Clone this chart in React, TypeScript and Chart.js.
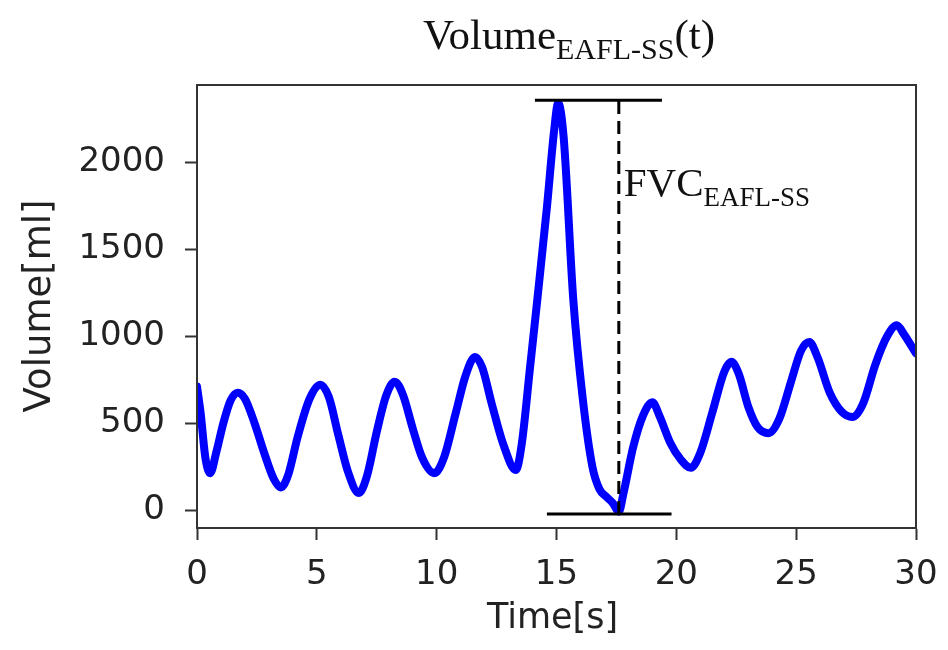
import { useEffect, useRef } from "react";
import { Chart, registerables } from "chart.js";

Chart.register(...registerables);

// Breathing volume trace (time in seconds, volume in ml)
const timeS = [
  0.0, 0.15, 0.35, 0.55, 0.8, 1.1, 1.4, 1.7, 2.0, 2.4, 2.8, 3.2, 3.5, 3.8, 4.2, 4.7,
  5.15, 5.5, 5.9, 6.3, 6.75, 7.1, 7.5, 7.9, 8.25, 8.6, 9.0, 9.4, 9.9, 10.3, 10.8, 11.2,
  11.6, 11.9, 12.3, 12.8, 13.3, 13.55, 13.9, 14.2, 14.6, 14.9, 15.07, 15.3, 15.7, 16.1,
  16.5, 16.8, 17.1, 17.35, 17.6, 17.8, 18.2, 18.6, 19.0, 19.3, 19.75, 20.2, 20.6, 21.0,
  21.5, 22.0, 22.3, 22.6, 23.0, 23.4, 23.85, 24.3, 24.8, 25.2, 25.55, 25.9, 26.4, 26.9,
  27.35, 27.8, 28.3, 28.8, 29.2, 29.5, 30.0,
];
const volumeMl = [
  710, 560, 300, 212, 330, 500, 630, 675, 640, 500, 330, 180, 130, 200, 420, 640,
  720, 650, 430, 220, 98, 200, 450, 660, 738, 660, 470, 300, 212, 300, 560, 770,
  880, 820, 610, 370, 230, 380, 825, 1210, 1740, 2180, 2340, 2140, 1210, 635,
  248, 118, 74, 40, -10, 100, 362, 540, 620, 540, 386, 288, 243, 330,
  560, 795, 852, 785, 595, 475, 442, 525, 745, 915, 966, 875, 675, 565,
  535, 615, 835, 1000, 1062, 1010, 900,
];

// Axis ticks
const xTickValues = [0, 5, 10, 15, 20, 25, 30];
const yTickValues = [0, 500, 1000, 1500, 2000];

// FVC markers: bars at the maximum and minimum volume, dashed span between them
const fvcTime = 17.6;
const fvcMaxMl = 2355;
const fvcMinMl = -23;
const maxBarTimes = [14.1, 19.4];
const minBarTimes = [14.6, 19.8];

const SERIF = '"Liberation Serif", "Times New Roman", serif';
const SANS = '"DejaVu Sans", sans-serif';

function drawWithSubscript(
  ctx: CanvasRenderingContext2D,
  base: string,
  sub: string,
  tail: string,
  x: number,
  baseline: number,
  size: number,
  subSize: number,
  drop: number,
  align: "left" | "center"
) {
  ctx.font = `${size}px ${SERIF}`;
  const w1 = ctx.measureText(base).width;
  const w3 = tail ? ctx.measureText(tail).width : 0;
  ctx.font = `${subSize}px ${SERIF}`;
  const w2 = ctx.measureText(sub).width;
  let cx = align === "center" ? x - (w1 + w2 + w3) / 2 : x;
  ctx.textAlign = "left";
  ctx.textBaseline = "alphabetic";
  ctx.font = `${size}px ${SERIF}`;
  ctx.fillText(base, cx, baseline);
  cx += w1;
  ctx.font = `${subSize}px ${SERIF}`;
  ctx.fillText(sub, cx, baseline + drop);
  cx += w2;
  if (tail) {
    ctx.font = `${size}px ${SERIF}`;
    ctx.fillText(tail, cx, baseline);
  }
}

const decorations = {
  id: "decorations",
  afterDraw(chart: any) {
    const { ctx, chartArea: a } = chart;
    ctx.save();
    // plot frame
    ctx.strokeStyle = "#333333";
    ctx.lineWidth = 2;
    ctx.strokeRect(a.left, a.top, a.right - a.left, a.bottom - a.top);

    // title
    ctx.fillStyle = "#111111";
    drawWithSubscript(ctx, "Volume", "EAFL-SS", "(t)", 569, 49, 43, 30, 10, "center");

    // FVC label beside the dashed span
    const xs = chart.scales.x;
    drawWithSubscript(ctx, "FVC", "EAFL-SS", "", xs.getPixelForValue(fvcTime) + 5, 196, 41, 27, 10, "left");

    // axis titles
    ctx.fillStyle = "#222222";
    ctx.font = `35px ${SANS}`;
    ctx.textAlign = "center";
    ctx.textBaseline = "alphabetic";
    ctx.fillText("Time[s]", (a.left + a.right) / 2 - 4, 628);
    ctx.font = `37px ${SANS}`;
    ctx.translate(50, 306);
    ctx.rotate(-Math.PI / 2);
    ctx.fillText("Volume[ml]", 0, 0);
    ctx.restore();
  },
};

export default function App() {
  const canvasRef = useRef<HTMLCanvasElement | null>(null);

  useEffect(() => {
    const canvas = canvasRef.current;
    if (!canvas) return;

    const trace = timeS.map((t, i) => ({ x: t, y: volumeMl[i] }));
    const maxBar = maxBarTimes.map((t) => ({ x: t, y: fvcMaxMl }));
    const minBar = minBarTimes.map((t) => ({ x: t, y: fvcMinMl }));
    const span = [
      { x: fvcTime, y: fvcMinMl },
      { x: fvcTime, y: fvcMaxMl },
    ];

    const chart = new Chart(canvas, {
      type: "line",
      data: {
        datasets: [
          {
            data: trace,
            borderColor: "#0000ff",
            borderWidth: 8,
            pointRadius: 0,
            cubicInterpolationMode: "monotone",
            borderJoinStyle: "round",
            borderCapStyle: "round",
            order: 2,
          },
          {
            data: maxBar,
            borderColor: "#000000",
            borderWidth: 3,
            pointRadius: 0,
            tension: 0,
            order: 1,
          },
          {
            data: minBar,
            borderColor: "#000000",
            borderWidth: 3,
            pointRadius: 0,
            tension: 0,
            order: 1,
          },
          {
            data: span,
            borderColor: "#000000",
            borderWidth: 3,
            borderDash: [13, 7],
            pointRadius: 0,
            tension: 0,
            order: 1,
          },
        ],
      },
      options: {
        animation: false,
        responsive: false,
        devicePixelRatio: 1,
        layout: { padding: { top: 85, right: 32, left: 0, bottom: 0 } },
        plugins: {
          legend: { display: false },
          tooltip: { enabled: false },
          title: { display: false },
        },
        scales: {
          x: {
            type: "linear",
            min: 0,
            max: 30,
            afterFit: (s: any) => {
              s.height = 122;
              s.paddingLeft = 0;
              s.paddingRight = 0;
            },
            afterBuildTicks: (s: any) => {
              s.ticks = xTickValues.map((v) => ({ value: v }));
            },
            grid: {
              drawOnChartArea: false,
              drawTicks: true,
              tickLength: 12,
              tickWidth: 2,
              tickColor: "#333333",
            },
            border: { display: true, color: "#333333", width: 2 },
            ticks: {
              color: "#222222",
              font: { family: SANS, size: 34 },
              padding: 15,
              maxRotation: 0,
              callback: (v: any) => String(v),
            },
          },
          y: {
            type: "linear",
            min: -103,
            max: 2443,
            afterFit: (s: any) => {
              s.width = 197;
              s.paddingTop = 0;
              s.paddingBottom = 0;
            },
            afterBuildTicks: (s: any) => {
              s.ticks = yTickValues.map((v) => ({ value: v }));
            },
            grid: {
              drawOnChartArea: false,
              drawTicks: true,
              tickLength: 12,
              tickWidth: 2,
              tickColor: "#333333",
            },
            border: { display: true, color: "#333333", width: 2 },
            ticks: {
              color: "#222222",
              font: { family: SANS, size: 34 },
              padding: 20,
              callback: (v: any) => String(v),
            },
          },
        },
      },
      plugins: [decorations],
    });

    return () => chart.destroy();
  }, []);

  return (
    <div style={{ position: "absolute", left: 0, top: 0, width: 948, height: 650, background: "#ffffff" }}>
      <canvas ref={canvasRef} width={948} height={650} style={{ display: "block" }} />
    </div>
  );
}
